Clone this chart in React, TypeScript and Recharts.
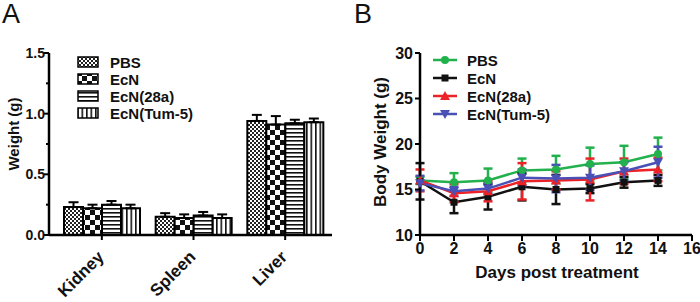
import React from 'react';
import { BarChart, Bar, LineChart, Line, XAxis, YAxis, ErrorBar, Legend } from 'recharts';

// panel A: organ weights
const organs = ['Kidney', 'Spleen', 'Liver'];
const groups = ['PBS', 'EcN', 'EcN(28a)', 'EcN(Tum-5)'];
const pbsWeight = [0.23, 0.15, 0.94];
const pbsWeightErr = [0.04, 0.03, 0.05];
const ecnWeight = [0.22, 0.14, 0.91];
const ecnWeightErr = [0.03, 0.03, 0.07];
const r28aWeight = [0.25, 0.16, 0.92];
const r28aWeightErr = [0.03, 0.03, 0.03];
const tum5Weight = [0.22, 0.14, 0.93];
const tum5WeightErr = [0.03, 0.03, 0.03];
const weightTicks = [0, 0.25, 0.5, 0.75, 1, 1.25, 1.5];

// panel B: body weight over time
const days = [0, 2, 4, 6, 8, 10, 12, 14];
const pbsBody = [16.0, 15.8, 16.0, 17.1, 17.2, 17.8, 18.0, 18.9];
const pbsBodyErr = [0.4, 1.0, 1.3, 1.3, 1.5, 1.8, 1.8, 1.8];
const ecnBody = [15.9, 13.6, 14.2, 15.3, 15.0, 15.1, 15.8, 16.0];
const ecnBodyErr = [2.0, 1.2, 1.4, 1.5, 1.6, 0.5, 0.6, 0.6];
const r28aBody = [16.0, 14.6, 14.8, 15.9, 16.0, 16.1, 17.0, 17.2];
const r28aBodyErr = [1.2, 1.0, 1.1, 2.0, 1.0, 2.3, 1.4, 1.3];
const tum5Body = [15.7, 14.8, 15.1, 16.3, 16.2, 16.3, 17.0, 18.0];
const tum5BodyErr = [0.8, 0.5, 0.6, 0.9, 1.5, 1.35, 1.0, 1.7];
const bodyTicks = [10, 15, 20, 25, 30];
const dayTicks = [0, 2, 4, 6, 8, 10, 12, 14, 16];

const FONT = '"Liberation Sans", Arial, Helvetica, sans-serif';
const keys = ['pbs', 'ecn', 'r28a', 'tum5'];
const patternIds = ['patPbs', 'patEcn', 'pat28a', 'patTum5'];
const lineColors = ['#22b14c', '#111111', '#ec2227', '#4a51b6'];
const markerShapes = ['circle', 'square', 'up', 'down'];

const barData = organs.map((organ, i) => ({
  organ,
  pbs: pbsWeight[i],
  pbsErr: [0, pbsWeightErr[i]],
  ecn: ecnWeight[i],
  ecnErr: [0, ecnWeightErr[i]],
  r28a: r28aWeight[i],
  r28aErr: [0, r28aWeightErr[i]],
  tum5: tum5Weight[i],
  tum5Err: [0, tum5WeightErr[i]],
}));

const lineData = days.map((day, i) => ({
  day,
  pbs: pbsBody[i],
  pbsErr: pbsBodyErr[i],
  ecn: ecnBody[i],
  ecnErr: ecnBodyErr[i],
  r28a: r28aBody[i],
  r28aErr: r28aBodyErr[i],
  tum5: tum5Body[i],
  tum5Err: tum5BodyErr[i],
}));

function Marker({ cx, cy, shape, color }: any) {
  if (cx == null || cy == null) return null;
  if (shape === 'circle') return <circle cx={cx} cy={cy} r={4} fill={color} />;
  if (shape === 'square') return <rect x={cx - 3.5} y={cy - 3.5} width={7} height={7} fill={color} />;
  if (shape === 'up')
    return <polygon points={`${cx},${cy - 5} ${cx + 5},${cy + 4} ${cx - 5},${cy + 4}`} fill={color} />;
  return <polygon points={`${cx},${cy + 5} ${cx + 5},${cy - 4} ${cx - 5},${cy - 4}`} fill={color} />;
}

function WeightTick({ x, y, payload }: any) {
  const v = payload.value;
  const major = Math.abs(v * 2 - Math.round(v * 2)) < 1e-6;
  return (
    <g>
      <line x1={x - (major ? 5 : 3)} x2={x} y1={y} y2={y} stroke="#000" strokeWidth={2} />
      {major && (
        <text x={x - 4} y={y + 5} textAnchor="end" fontFamily={FONT} fontSize={14} fontWeight="bold" fill="#111">
          {v.toFixed(1)}
        </text>
      )}
    </g>
  );
}

function OrganTick({ x, y, payload }: any) {
  const px = x + 3;
  const py = y + 16;
  return (
    <text
      x={px}
      y={py}
      textAnchor="end"
      transform={`rotate(-45 ${px} ${py})`}
      fontFamily={FONT}
      fontSize={17}
      fontWeight="bold"
      fill="#111"
    >
      {payload.value}
    </text>
  );
}

function BarLegend() {
  return (
    <svg width={140} height={72}>
      {groups.map((g, i) => (
        <g key={g} transform={`translate(0, ${i * 17})`}>
          <rect x={1} y={3} width={20} height={10} fill={`url(#${patternIds[i]})`} stroke="#000" strokeWidth={1.5} />
          <text x={33} y={13.5} fontFamily={FONT} fontSize={15} fontWeight="bold" fill="#111">
            {g}
          </text>
        </g>
      ))}
    </svg>
  );
}

function LineLegend() {
  return (
    <svg width={150} height={76}>
      {groups.map((g, i) => (
        <g key={g} transform={`translate(0, ${i * 18})`}>
          <line x1={0} x2={24} y1={9} y2={9} stroke={lineColors[i]} strokeWidth={2.5} />
          <Marker cx={12} cy={9} shape={markerShapes[i]} color={lineColors[i]} />
          <text x={34} y={14.5} fontFamily={FONT} fontSize={15} fontWeight="bold" fill="#111">
            {g}
          </text>
        </g>
      ))}
    </svg>
  );
}

const rotatedTitle = (text: string, x: number, y: number, size: number) => ({
  content: () => (
    <text
      x={x}
      y={y}
      transform={`rotate(-90 ${x} ${y})`}
      textAnchor="middle"
      fontFamily={FONT}
      fontSize={size}
      fontWeight="bold"
      fill="#111"
    >
      {text}
    </text>
  ),
});

export default function App() {
  return (
    <div style={{ position: 'absolute', left: 0, top: 0, width: 700, height: 302, background: '#fff', fontFamily: FONT }}>
      <svg width={700} height={302} style={{ position: 'absolute', left: 0, top: 0, pointerEvents: 'none', zIndex: 2 }}>
        <defs>
          <pattern id="patPbs" patternUnits="userSpaceOnUse" width={4} height={4}>
            <rect width={4} height={4} fill="#fff" />
            <rect x={0} y={0} width={2} height={2} fill="#222" />
            <rect x={2} y={2} width={2} height={2} fill="#222" />
          </pattern>
          <pattern id="patEcn" patternUnits="userSpaceOnUse" width={10} height={10}>
            <rect width={10} height={10} fill="#fff" />
            <rect x={0} y={0} width={5} height={5} fill="#111" />
            <rect x={5} y={5} width={5} height={5} fill="#111" />
          </pattern>
          <pattern id="pat28a" patternUnits="userSpaceOnUse" width={4} height={4}>
            <rect width={4} height={4} fill="#fff" />
            <rect x={0} y={0} width={4} height={1.6} fill="#111" />
          </pattern>
          <pattern id="patTum5" patternUnits="userSpaceOnUse" width={4.5} height={4.5}>
            <rect width={4.5} height={4.5} fill="#fff" />
            <rect x={0} y={0} width={1.6} height={4.5} fill="#111" />
          </pattern>
        </defs>
        <text x={2} y={23} fontFamily={FONT} fontSize={27} fill="#111">A</text>
        <text x={354} y={23} fontFamily={FONT} fontSize={27} fill="#111">B</text>
      </svg>

      <div style={{ position: 'absolute', left: 0, top: 0 }}>
        <BarChart
          width={345}
          height={302}
          data={barData}
          margin={{ top: 53, right: 13, left: 0, bottom: 0 }}
          barCategoryGap={8}
          barGap={0}
        >
          <XAxis
            dataKey="organ"
            height={67}
            padding={{ left: 7, right: 1 }}
            axisLine={{ stroke: '#000', strokeWidth: 2.5 }}
            tickLine={{ stroke: '#000', strokeWidth: 2 }}
            tickSize={5}
            tickMargin={2}
            tick={<OrganTick />}
            interval={0}
          />
          <YAxis
            width={49}
            domain={[0, 1.5]}
            ticks={weightTicks}
            interval={0}
            axisLine={{ stroke: '#000', strokeWidth: 2.5 }}
            tickLine={false}
            tickSize={0}
            tickMargin={0}
            tick={<WeightTick />}
            label={rotatedTitle('Weight (g)', 19, 134, 15)}
          />
          <Legend
            layout="vertical"
            align="center"
            verticalAlign="middle"
            content={<BarLegend />}
            wrapperStyle={{ left: 77, top: 54, width: 140, height: 72 }}
          />
          {keys.map((k, i) => (
            <Bar
              key={k}
              dataKey={k}
              name={groups[i]}
              fill={`url(#${patternIds[i]})`}
              stroke="#000"
              strokeWidth={2}
              isAnimationActive={false}
            >
              <ErrorBar dataKey={`${k}Err`} direction="y" width={5} stroke="#000" strokeWidth={2} />
            </Bar>
          ))}
        </BarChart>
      </div>

      <div style={{ position: 'absolute', left: 350, top: 0 }}>
        <LineChart width={350} height={302} data={lineData} margin={{ top: 53, right: 8, left: 0, bottom: 0 }}>
          <XAxis
            dataKey="day"
            type="number"
            domain={[0, 16]}
            ticks={dayTicks}
            interval={0}
            height={67}
            axisLine={{ stroke: '#000', strokeWidth: 2.5 }}
            tickLine={{ stroke: '#000', strokeWidth: 2 }}
            tickSize={6}
            tickMargin={2}
            tick={{ fontFamily: FONT, fontSize: 16, fontWeight: 'bold', fill: '#111' }}
            label={{
              content: () => (
                <text x={207} y={278} textAnchor="middle" fontFamily={FONT} fontSize={17} fontWeight="bold" fill="#111">
                  Days post treatment
                </text>
              ),
            }}
          />
          <YAxis
            width={70}
            domain={[10, 30]}
            ticks={bodyTicks}
            interval={0}
            axisLine={{ stroke: '#000', strokeWidth: 2.5 }}
            tickLine={{ stroke: '#000', strokeWidth: 2 }}
            tickSize={5}
            tickMargin={2}
            tick={{ fontFamily: FONT, fontSize: 16, fontWeight: 'bold', fill: '#111' }}
            label={rotatedTitle('Body Weight (g)', 36, 142, 17)}
          />
          <Legend
            layout="vertical"
            align="center"
            verticalAlign="middle"
            content={<LineLegend />}
            wrapperStyle={{ left: 83, top: 51, width: 150, height: 76 }}
          />
          {keys.map((k, i) => (
            <Line
              key={k}
              dataKey={k}
              name={groups[i]}
              type="linear"
              stroke={lineColors[i]}
              strokeWidth={2.5}
              isAnimationActive={false}
              dot={(p: any) => (
                <Marker key={`${k}-${p.index}`} cx={p.cx} cy={p.cy} shape={markerShapes[i]} color={lineColors[i]} />
              )}
              activeDot={false}
            >
              <ErrorBar dataKey={`${k}Err`} direction="y" width={4.5} stroke={lineColors[i]} strokeWidth={2.5} />
            </Line>
          ))}
        </LineChart>
      </div>
    </div>
  );
}
